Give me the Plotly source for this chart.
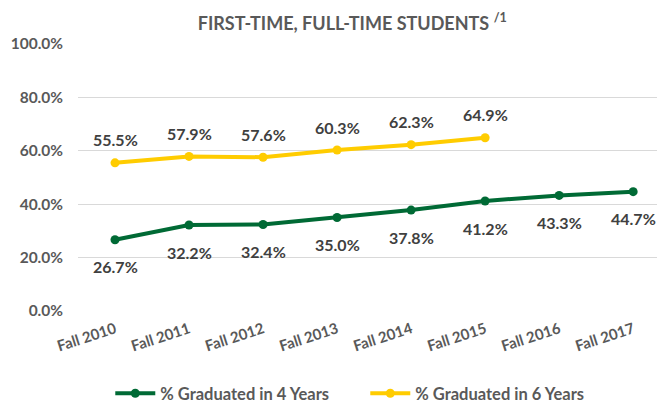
import plotly.graph_objects as go

categories = ["Fall 2010", "Fall 2011", "Fall 2012", "Fall 2013", "Fall 2014", "Fall 2015", "Fall 2016", "Fall 2017"]
grad4 = [26.7, 32.2, 32.4, 35.0, 37.8, 41.2, 43.3, 44.7]
grad6 = [55.5, 57.9, 57.6, 60.3, 62.3, 64.9]
y_ticks = [0, 20, 40, 60, 80, 100]

GREEN = "#006A35"
YELLOW = "#FFCC00"
FONT = "Lato"
TXT = "#404040"
AX = "#595959"

fig = go.Figure()
fig.add_trace(go.Scatter(
    x=categories, y=grad4, name="% Graduated in 4 Years", mode="lines+markers",
    line=dict(color=GREEN, width=4), marker=dict(color=GREEN, size=9),
))
fig.add_trace(go.Scatter(
    x=categories[:len(grad6)], y=grad6, name="% Graduated in 6 Years", mode="lines+markers",
    line=dict(color=YELLOW, width=4), marker=dict(color=YELLOW, size=9),
))

annotations = []
for c, v in zip(categories, grad4):
    annotations.append(dict(x=c, y=v, text=f"{v:.1f}%", showarrow=False, yshift=-27,
                            font=dict(family=FONT, size=16, color=TXT, weight="bold")))
for c, v in zip(categories, grad6):
    annotations.append(dict(x=c, y=v, text=f"{v:.1f}%", showarrow=False, yshift=23,
                            font=dict(family=FONT, size=16, color=TXT, weight="bold")))

fig.update_layout(
    width=657, height=403,
    margin=dict(l=70, r=0, t=36, b=96),
    paper_bgcolor="white", plot_bgcolor="white",
    title=dict(text="FIRST-TIME, FULL-TIME STUDENTS <sup>/1</sup>", x=0.524, xanchor="center",
               y=0.962, yanchor="middle",
               font=dict(family=FONT, size=18, color=AX, weight="bold")),
    xaxis=dict(type="category", range=[-0.5, 7.43], tickangle=-18,
               tickfont=dict(family=FONT, size=15, color=AX, weight="bold"),
               showgrid=False, showline=False, ticks="", automargin=False,
               ticklabelstandoff=6),
    yaxis=dict(range=[0, 100], tickvals=y_ticks, ticktext=[f"{t:.1f}%" for t in y_ticks],
               tickfont=dict(family=FONT, size=15.5, color=AX, weight="bold"),
               showgrid=True, gridcolor="#d9d9d9", gridwidth=1, zeroline=False,
               showline=False, ticks="", ticklabelstandoff=14, automargin=False),
    legend=dict(orientation="h", x=0.055, xanchor="left", y=-0.31, yanchor="middle",
                font=dict(family=FONT, size=16.5, color=AX, weight="bold"),
                itemwidth=40, entrywidth=200, entrywidthmode="pixels"),
    annotations=annotations,
    showlegend=True,
)

fig.write_html("out.html")
